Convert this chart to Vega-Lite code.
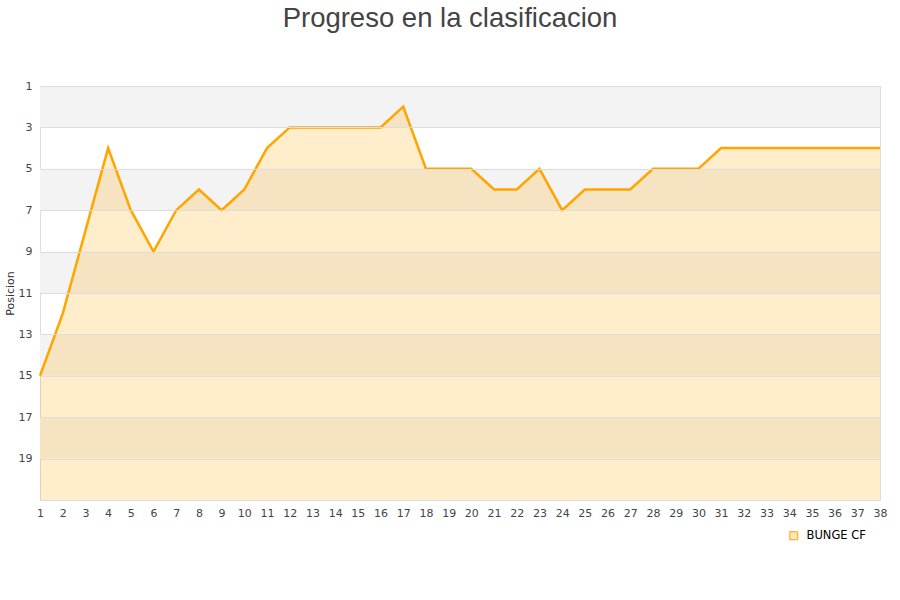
{
  "$schema": "https://vega.github.io/schema/vega-lite/v6.json",
  "width": 840,
  "height": 414,
  "autosize": {"type": "none"},
  "padding": {"left": 40, "top": 86, "right": 20, "bottom": 100},
  "background": "white",
  "title": {
    "text": "Progreso en la clasificacion",
    "fontSize": 27.5,
    "font": "Liberation Sans",
    "fontWeight": "normal",
    "color": "#444444",
    "anchor": "middle",
    "dx": -10,
    "offset": 48
  },
  "config": {
    "view": {"stroke": "#dddddd", "strokeWidth": 1},
    "font": "DejaVu Sans",
    "axisX": {
      "values": [1,2,3,4,5,6,7,8,9,10,11,12,13,14,15,16,17,18,19,20,21,22,23,24,25,26,27,28,29,30,31,32,33,34,35,36,37,38],
      "tickCount": 38,
      "format": "d",
      "title": null,
      "labelFontSize": 11,
      "labelColor": "#444444",
      "labelPadding": 7,
      "labelFlush": false,
      "labelOverlap": false,
      "ticks": false,
      "domain": false,
      "grid": false
    }
  },
  "datasets": {
    "pos": [
      {"jornada": 1, "posicion": 15, "equipo": "BUNGE CF"},
      {"jornada": 2, "posicion": 12, "equipo": "BUNGE CF"},
      {"jornada": 3, "posicion": 8, "equipo": "BUNGE CF"},
      {"jornada": 4, "posicion": 4, "equipo": "BUNGE CF"},
      {"jornada": 5, "posicion": 7, "equipo": "BUNGE CF"},
      {"jornada": 6, "posicion": 9, "equipo": "BUNGE CF"},
      {"jornada": 7, "posicion": 7, "equipo": "BUNGE CF"},
      {"jornada": 8, "posicion": 6, "equipo": "BUNGE CF"},
      {"jornada": 9, "posicion": 7, "equipo": "BUNGE CF"},
      {"jornada": 10, "posicion": 6, "equipo": "BUNGE CF"},
      {"jornada": 11, "posicion": 4, "equipo": "BUNGE CF"},
      {"jornada": 12, "posicion": 3, "equipo": "BUNGE CF"},
      {"jornada": 13, "posicion": 3, "equipo": "BUNGE CF"},
      {"jornada": 14, "posicion": 3, "equipo": "BUNGE CF"},
      {"jornada": 15, "posicion": 3, "equipo": "BUNGE CF"},
      {"jornada": 16, "posicion": 3, "equipo": "BUNGE CF"},
      {"jornada": 17, "posicion": 2, "equipo": "BUNGE CF"},
      {"jornada": 18, "posicion": 5, "equipo": "BUNGE CF"},
      {"jornada": 19, "posicion": 5, "equipo": "BUNGE CF"},
      {"jornada": 20, "posicion": 5, "equipo": "BUNGE CF"},
      {"jornada": 21, "posicion": 6, "equipo": "BUNGE CF"},
      {"jornada": 22, "posicion": 6, "equipo": "BUNGE CF"},
      {"jornada": 23, "posicion": 5, "equipo": "BUNGE CF"},
      {"jornada": 24, "posicion": 7, "equipo": "BUNGE CF"},
      {"jornada": 25, "posicion": 6, "equipo": "BUNGE CF"},
      {"jornada": 26, "posicion": 6, "equipo": "BUNGE CF"},
      {"jornada": 27, "posicion": 6, "equipo": "BUNGE CF"},
      {"jornada": 28, "posicion": 5, "equipo": "BUNGE CF"},
      {"jornada": 29, "posicion": 5, "equipo": "BUNGE CF"},
      {"jornada": 30, "posicion": 5, "equipo": "BUNGE CF"},
      {"jornada": 31, "posicion": 4, "equipo": "BUNGE CF"},
      {"jornada": 32, "posicion": 4, "equipo": "BUNGE CF"},
      {"jornada": 33, "posicion": 4, "equipo": "BUNGE CF"},
      {"jornada": 34, "posicion": 4, "equipo": "BUNGE CF"},
      {"jornada": 35, "posicion": 4, "equipo": "BUNGE CF"},
      {"jornada": 36, "posicion": 4, "equipo": "BUNGE CF"},
      {"jornada": 37, "posicion": 4, "equipo": "BUNGE CF"},
      {"jornada": 38, "posicion": 4, "equipo": "BUNGE CF"}
    ],
    "bands": [
      {"y1": 1, "y2": 3},
      {"y1": 5, "y2": 7},
      {"y1": 9, "y2": 11},
      {"y1": 13, "y2": 15},
      {"y1": 17, "y2": 19}
    ]
  },
  "layer": [
    {
      "data": {"name": "bands"},
      "mark": {"type": "rect", "color": "#f3f3f3"},
      "encoding": {
        "y": {"field": "y1", "type": "quantitative", "scale": {"domain": [1, 21], "reverse": true, "nice": false, "zero": false},
          "axis": {
            "values": [1, 3, 5, 7, 9, 11, 13, 15, 17, 19],
            "tickCount": 10,
            "format": "d",
            "title": "Posicion",
            "titleFontSize": 11,
            "titleFontWeight": "normal",
            "titleColor": "#333333",
            "titlePadding": 3,
            "labelFontSize": 11,
            "labelColor": "#444444",
            "labelPadding": 8,
            "ticks": false,
            "domain": false,
            "grid": true,
            "gridColor": "#dddddd",
            "zindex": 1
          }},
        "y2": {"field": "y2"}
      }
    },
    {
      "data": {"name": "pos"},
      "mark": {"type": "area", "color": "orange", "opacity": 0.2},
      "encoding": {
        "x": {"field": "jornada", "type": "quantitative", "scale": {"domain": [1, 38], "nice": false, "zero": false}},
        "y": {"field": "posicion", "type": "quantitative"},
        "y2": {"datum": 21}
      }
    },
    {
      "data": {"name": "pos"},
      "mark": {"type": "line", "strokeWidth": 2.5},
      "encoding": {
        "x": {"field": "jornada", "type": "quantitative"},
        "y": {"field": "posicion", "type": "quantitative"},
        "color": {
          "field": "equipo",
          "type": "nominal",
          "scale": {"range": ["orange"]},
          "legend": {
            "title": null,
            "orient": "none",
            "legendX": 748,
            "legendY": 444,
            "symbolType": "square",
            "symbolSize": 64,
            "labelFontSize": 11.5,
            "labelOffset": 7,
            "labelColor": "#000000",
            "labelFont": "DejaVu Sans",
            "encode": {
              "symbols": {"update": {"fill": {"value": "#fde7c0"}, "stroke": {"value": "#a08860"}, "strokeWidth": {"value": 1}}}
            }
          }
        }
      }
    }
  ]
}
